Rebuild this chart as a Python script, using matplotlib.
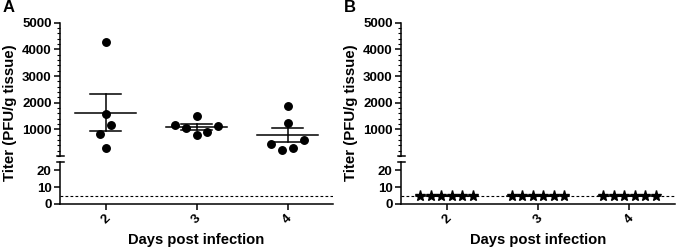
import numpy as np
import matplotlib
matplotlib.use("Agg")
import matplotlib.pyplot as plt
from matplotlib.ticker import MultipleLocator

plt.rcParams['font.family'] = ['Liberation Sans', 'DejaVu Sans']
plt.rcParams['font.weight'] = 'bold'
plt.rcParams['axes.labelweight'] = 'bold'

# data
days = ["2", "3", "4"]
titer_a = [
    [4260, 1560, 1150, 825, 312],
    [1163, 1063, 1500, 788, 900, 1125],
    [1888, 1238, 438, 225, 288, 600],
]
titer_b = [
    [5, 5, 5, 5, 5, 5],
    [5, 5, 5, 5, 5, 5],
    [5, 5, 5, 5, 5, 5],
]
detection_limit = 5
upper_ticks = [1000, 2000, 3000, 4000, 5000]
lower_ticks = [0, 10, 20]

W, H = 679, 250
LW = 1.1


def swarm_offsets(vals, row_span, step=0.12):
    # group close values into rows, spread each row around the centre
    vals = np.asarray(vals, dtype=float)
    order = list(np.argsort(vals, kind="stable"))
    rows, cur = [], [order[0]]
    for idx in order[1:]:
        if vals[idx] - vals[cur[0]] <= row_span:
            cur.append(idx)
        else:
            rows.append(cur)
            cur = [idx]
    rows.append(cur)
    off = np.zeros(len(vals))
    for row in rows:
        n = len(row)
        if n % 2:
            slots = [0] + [s * k for k in range(1, n) for s in (1, -1)]
        else:
            slots = [s * (k + 0.5) for k in range(n) for s in (-1, 1)]
        for k, idx in enumerate(row):
            off[idx] = slots[k] * step
    return off


def mean_sem(ax, x, vals):
    vals = np.asarray(vals, dtype=float)
    m = vals.mean()
    sem = vals.std(ddof=1) / np.sqrt(len(vals))
    ax.plot([x - 0.34, x + 0.34], [m, m], color="black", lw=LW, zorder=2)
    ax.plot([x - 0.17, x + 0.17], [m + sem, m + sem], color="black", lw=LW, zorder=2)
    ax.plot([x - 0.17, x + 0.17], [m - sem, m - sem], color="black", lw=LW, zorder=2)
    ax.plot([x, x], [m - sem, m + sem], color="black", lw=LW, zorder=2)


def make_panel(fig, left_px, right_px, letter):
    l = left_px / W
    w = (right_px - left_px) / W
    up = fig.add_axes([l, 1 - 156 / H, w, (156 - 22.7) / H])
    lo = fig.add_axes([l, 1 - 204 / H, w, (204 - 162) / H])
    for ax in (up, lo):
        ax.set_xlim(-0.5, 2.5)
        for s in ("top", "right"):
            ax.spines[s].set_visible(False)
        ax.spines["left"].set_linewidth(LW)
        ax.spines["bottom"].set_linewidth(LW)
        ax.tick_params(width=LW, length=4, labelsize=9.5, pad=2)
        ax.tick_params(which="minor", width=0.8, length=2.4)
        ax.patch.set_alpha(0)
    up.spines["bottom"].set_visible(False)
    up.set_xticks([])
    up.set_ylim(0, 5000)
    up.set_yticks(upper_ticks)
    up.yaxis.set_minor_locator(MultipleLocator(200))

    lo.set_ylim(0, 25)
    lo.set_yticks(lower_ticks)
    lo.set_xticks(range(len(days)))
    lo.set_xticklabels(days, rotation=45, ha="center", va="top")
    lo.axhline(detection_limit, color="black", lw=0.8, ls=(0, (2.5, 2)), zorder=1)

    # axis break caps
    cap = 3.5 / (right_px - left_px)
    up.plot([-cap, cap], [0, 0], transform=up.transAxes, color="black",
            lw=LW, clip_on=False)
    lo.plot([-cap, cap], [1, 1], transform=lo.transAxes, color="black",
            lw=LW, clip_on=False)

    fig.text((left_px - 57) / W, 1 - 8 / H, letter, fontsize=12,
             fontweight="bold", va="center", ha="left")
    fig.text((left_px - 50) / W, 1 - 113 / H, "Titer (PFU/g tissue)",
             rotation=90, fontsize=10.8, fontweight="bold", ha="center", va="center")
    fig.text((left_px + right_px) / 2 / W, 1 - 240 / H, "Days post infection",
             fontsize=10.6, fontweight="bold", ha="center", va="center")
    return up, lo


fig = plt.figure(figsize=(W / 100, H / 100), dpi=100)

up_a, lo_a = make_panel(fig, 60, 333, "A")
for i, vals in enumerate(titer_a):
    xs = i + swarm_offsets(vals, 450)
    up_a.plot(xs, vals, "o", color="black", ms=5.4, zorder=3, clip_on=False)
    mean_sem(up_a, i, vals)

up_b, lo_b = make_panel(fig, 401, 675, "B")
for i, vals in enumerate(titer_b):
    xs = i + swarm_offsets(vals, 2, step=0.115)
    lo_b.plot(xs, vals, "*", color="black", ms=8, zorder=3, clip_on=False)
    mean_sem(lo_b, i, vals)

fig.savefig("out.png", dpi=100)
